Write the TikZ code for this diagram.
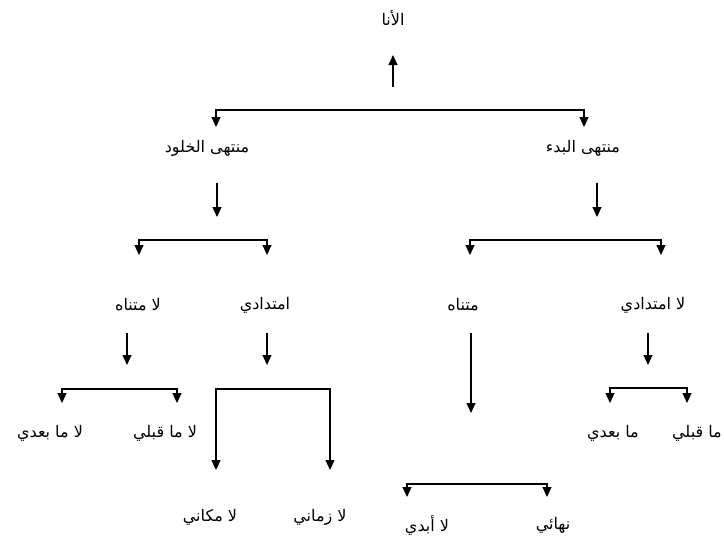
\documentclass[tikz,border=0pt]{standalone}
\usepackage{fontspec}
\newfontfamily\arabicfont[Script=Arabic]{DejaVu Sans}
\TeXXeTstate=1
\usetikzlibrary{arrows.meta}
\newcommand{\ar}[1]{\arabicfont\beginR #1\endR}
\begin{document}
\begin{tikzpicture}[x=1pt,y=-1pt,
  lbl/.style={font=\arabicfont\fontsize{16}{18}\selectfont, inner sep=0pt, anchor=center},
  conn/.style={line width=1.1pt, -{Triangle[width=9pt,length=10pt]}},
  bconn/.style={line width=1.1pt, {Triangle[width=9pt,length=10pt]}-{Triangle[width=9pt,length=10pt]}}]
\useasboundingbox (0,0) rectangle (724,539);
% labels
\node[lbl] (ana) at (393,18) {\ar{الأنا}};
\node[lbl] (khulud) at (207,148) {\ar{منتهى الخلود}};
\node[lbl] (bad) at (583,148) {\ar{منتهى البدء}};
\node[lbl] (lamutanah) at (138,305) {\ar{لا متناه}};
\node[lbl] (imtidadi) at (265,305) {\ar{امتدادي}};
\node[lbl] (mutanah) at (463,305) {\ar{متناه}};
\node[lbl] (laimtidadi) at (653,305) {\ar{لا امتدادي}};
\node[lbl] (lamabadi) at (50,433) {\ar{لا ما بعدي}};
\node[lbl] (lamaqabli) at (165,433) {\ar{لا ما قبلي}};
\node[lbl] (mabadi) at (613,433) {\ar{ما بعدي}};
\node[lbl,anchor=east] (maqabli) at (722,433) {\ar{ما قبلي}};
\node[lbl] (lamakani) at (210,517) {\ar{لا مكاني}};
\node[lbl] (lazamani) at (320,517) {\ar{لا زماني}};
\node[lbl] (laabadi) at (427,525) {\ar{لا أبدي}};
\node[lbl] (nihai) at (553,525) {\ar{نهائي}};
% coordinates
\coordinate (u0) at (393,87); \coordinate (u1) at (393,55);
\coordinate (t1a) at (216,127); \coordinate (h1a) at (216,110);
\coordinate (h1b) at (584,110); \coordinate (t1b) at (584,127);
\coordinate (d1a) at (217,183); \coordinate (e1a) at (217,217);
\coordinate (d1b) at (597,183); \coordinate (e1b) at (597,217);
\coordinate (t2a) at (139,255); \coordinate (h2a) at (139,240);
\coordinate (h2b) at (267,240); \coordinate (t2b) at (267,255);
\coordinate (t2c) at (470,255); \coordinate (h2c) at (470,240);
\coordinate (h2d) at (661,240); \coordinate (t2d) at (661,255);
\coordinate (d3a) at (127,333); \coordinate (e3a) at (127,365);
\coordinate (d3b) at (267,333); \coordinate (e3b) at (267,365);
\coordinate (d3c) at (471,333); \coordinate (e3c) at (471,413);
\coordinate (d3d) at (648,333); \coordinate (e3d) at (648,365);
\coordinate (t4a) at (62,403); \coordinate (h4a) at (62,389);
\coordinate (h4b) at (177,389); \coordinate (t4b) at (177,403);
\coordinate (t4c) at (216,470); \coordinate (h4c) at (216,389);
\coordinate (h4d) at (330,389); \coordinate (t4d) at (330,470);
\coordinate (t4e) at (610,403); \coordinate (h4e) at (610,388);
\coordinate (h4f) at (687,388); \coordinate (t4f) at (687,403);
\coordinate (t5a) at (407,497); \coordinate (h5a) at (407,484);
\coordinate (h5b) at (547,484); \coordinate (t5b) at (547,497);
% connectors
\draw[conn] (u0) -- (u1);
\draw[bconn] (t1a) -- (h1a) -- (h1b) -- (t1b);
\draw[conn] (d1a) -- (e1a);
\draw[conn] (d1b) -- (e1b);
\draw[bconn] (t2a) -- (h2a) -- (h2b) -- (t2b);
\draw[bconn] (t2c) -- (h2c) -- (h2d) -- (t2d);
\draw[conn] (d3a) -- (e3a);
\draw[conn] (d3b) -- (e3b);
\draw[conn] (d3c) -- (e3c);
\draw[conn] (d3d) -- (e3d);
\draw[bconn] (t4a) -- (h4a) -- (h4b) -- (t4b);
\draw[bconn] (t4c) -- (h4c) -- (h4d) -- (t4d);
\draw[bconn] (t4e) -- (h4e) -- (h4f) -- (t4f);
\draw[bconn] (t5a) -- (h5a) -- (h5b) -- (t5b);
\end{tikzpicture}
\end{document}
